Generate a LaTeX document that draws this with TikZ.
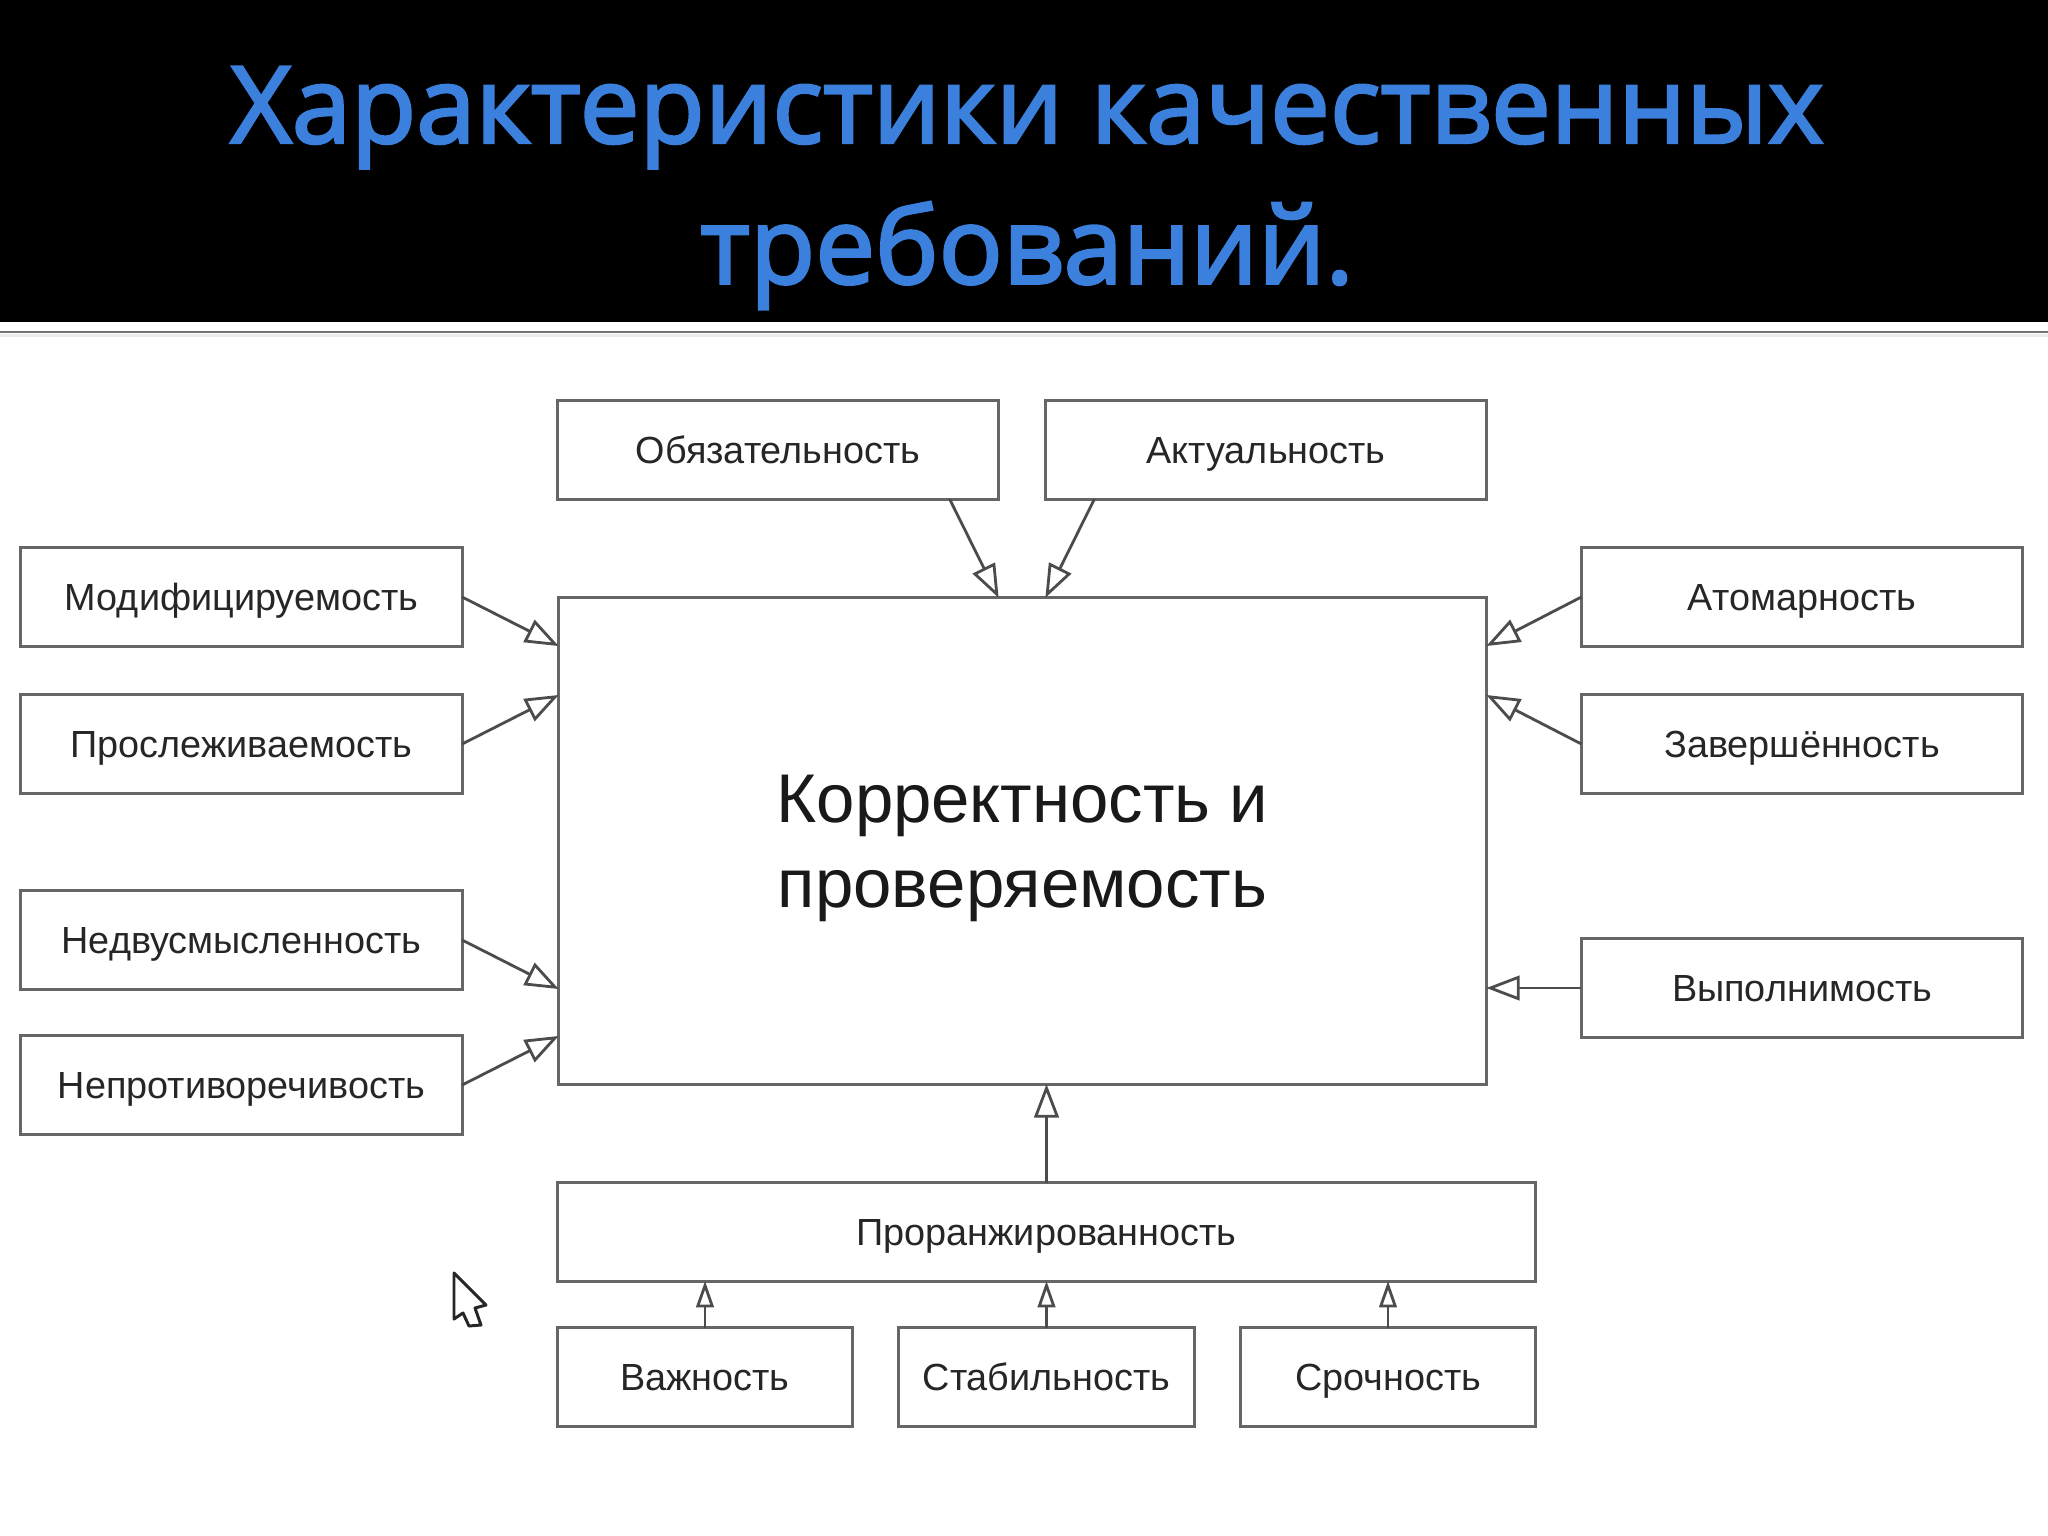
\documentclass[tikz,border=0pt]{standalone}
\usepackage{fontspec}
\setmainfont{Liberation Sans}
\newfontfamily\titlefont[FakeBold=2.5]{Open Sans}
\usetikzlibrary{arrows.meta}
\definecolor{titleblue}{RGB}{58,128,220}
\tikzset{
  box/.style={draw=black!60,line width=0.85pt,inner sep=0pt,outer sep=0pt,minimum width=4.41cm,minimum height=0.98cm,text height=9.6pt,text depth=2pt,text=black!85,font=\fontsize{10.75}{13}\selectfont},
  wide/.style={box,minimum width=2.95cm},
  arr/.style={draw=black!70,line width=0.8pt,-{Triangle[open,length=9.5pt,width=7pt]}},
  arrsmall/.style={draw=black!70,line width=0.8pt,-{Triangle[open,length=7.5pt,width=5pt]}}
}
\begin{document}
\begin{tikzpicture}[x=0.01cm,y=-0.01cm]
\useasboundingbox (0,0) rectangle (2048,1536);
\fill[black] (0,0) rectangle (2048,322);
\draw[black!55,line width=0.6pt] (0,332) -- (2048,332);
\fill[black!8] (0,334) rectangle (2048,337);
\node[text=titleblue,align=center,font=\titlefont\fontsize{30.3}{40}\selectfont] (title) at (1027,188) {Характеристики качественных\\требований.};
\node[box,minimum width=9.27cm,minimum height=4.86cm,align=center,text=black!90,text height=41.8pt,text depth=,font=\fontsize{19.6}{24}\selectfont] (korr) at (1022.5,841) {Корректность и\\проверяемость};
\node[box] (obyaz) at (778,450) {Обязательность};
\node[box] (akt) at (1266,450) {Актуальность};
\node[box] (modif) at (241.5,597) {Модифицируемость};
\node[box] (prosl) at (241.5,744) {Прослеживаемость};
\node[box] (nedv) at (241.5,940) {Недвусмысленность};
\node[box] (neprot) at (241.5,1085) {Непротиворечивость};
\node[box] (atom) at (1802,597) {Атомарность};
\node[box] (zaversh) at (1802,744) {Завершённость};
\node[box] (vypoln) at (1802,988) {Выполнимость};
\node[box,minimum width=9.77cm] (pror) at (1046.5,1232) {Проранжированность};
\node[wide] (vazh) at (705,1377) {Важность};
\node[wide] (stab) at (1046.5,1377) {Стабильность};
\node[wide] (sroch) at (1388,1377) {Срочность};
\draw[arr] ([xshift=-0.49cm]obyaz.south east) -- (obyaz.south east |- korr.north);
\draw[arr] ([xshift=0.49cm]akt.south west) -- (akt.south west |- korr.north);
\draw[arr] (modif.east) -- (korr.west |- modif.south);
\draw[arr] (prosl.east) -- (korr.west |- prosl.north);
\draw[arr] (nedv.east) -- (korr.west |- nedv.south);
\draw[arr] (neprot.east) -- (korr.west |- neprot.north);
\draw[arr] (atom.west) -- (korr.east |- atom.south);
\draw[arr] (zaversh.west) -- (korr.east |- zaversh.north);
\draw[arr] (vypoln.west) -- (korr.east |- vypoln.west);
\draw[arr] (pror.north) -- (pror.north |- korr.south);
\draw[arrsmall] (vazh.north) -- (vazh.north |- pror.south);
\draw[arrsmall] (stab.north) -- (stab.north |- pror.south);
\draw[arrsmall] (sroch.north) -- (sroch.north |- pror.south);
\draw[black!85,fill=white,line width=0.85pt,line join=round] (454,1273) -- (486,1305) -- (475,1308) -- (481,1325) -- (469,1326) -- (463,1313) -- (454,1319) -- cycle;
\end{tikzpicture}
\end{document}
